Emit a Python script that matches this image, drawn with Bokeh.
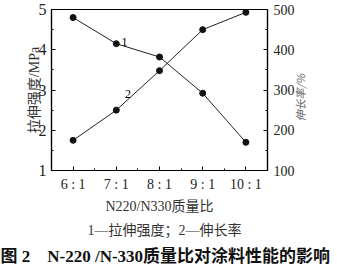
from bokeh.plotting import figure
from bokeh.models import Range1d, LinearAxis, FixedTicker, Label, Title
from bokeh.embed import file_html
from bokeh.resources import INLINE

categories = ["6 : 1", "7 : 1", "8 : 1", "9 : 1", "10 : 1"]
tensile = [4.8, 4.15, 3.82, 2.92, 1.7]
elongation = [175, 250, 348, 450, 493]
left_ticks = [1, 2, 3, 4, 5]
right_ticks = [100, 200, 300, 400, 500]

SERIF = "Liberation Serif, Noto Sans CJK SC"
CJK = "Noto Sans CJK SC"

xs = list(range(len(categories)))

p = figure(width=337, height=268, output_backend="svg", toolbar_location=None,
           x_range=Range1d(-0.5, len(categories) - 0.5), y_range=Range1d(1, 5),
           min_border_left=51, min_border_right=70, min_border_top=9, min_border_bottom=0)
p.extra_y_ranges = {"el": Range1d(100, 500)}
p.grid.visible = False
p.outline_line_color = "black"
p.outline_line_width = 1.2
p.background_fill_color = "white"

def style(ax, size="14px"):
    ax.major_label_text_font = SERIF
    ax.major_label_text_font_size = size
    ax.major_label_text_color = "#222222"
    ax.major_tick_in = 4
    ax.major_tick_out = 0
    ax.minor_tick_in = 2
    ax.minor_tick_out = 0
    ax.axis_line_color = "black"
    ax.axis_line_width = 1.2
    ax.axis_label_text_font = SERIF
    ax.axis_label_text_font_style = "normal"
    ax.axis_label_text_color = "#333333"

p.xaxis.ticker = FixedTicker(ticks=xs, minor_ticks=[i + 0.5 for i in range(-1, len(xs))])
p.xaxis.major_label_overrides = {i: c for i, c in zip(xs, categories)}
style(p.xaxis[0], "14px")
p.xaxis.major_label_standoff = 6
p.xaxis.axis_label = "N220/N330质量比"
p.xaxis.axis_label_text_font_size = "14px"
p.xaxis.axis_label_standoff = 4

p.yaxis.ticker = FixedTicker(ticks=left_ticks, minor_ticks=[t + 0.5 for t in left_ticks[:-1]])
style(p.yaxis[0], "16px")
p.yaxis.major_label_standoff = 5
p.yaxis.axis_label = "拉伸强度/MPa"
p.yaxis.axis_label_text_font_size = "14px"
p.yaxis.axis_label_standoff = -6

ra = LinearAxis(y_range_name="el", ticker=FixedTicker(ticks=right_ticks, minor_ticks=[t + 50 for t in right_ticks[:-1]]))
style(ra, "14px")
ra.major_label_standoff = 6
p.add_layout(ra, "right")

# label-only axis for the right-hand title (reads bottom-to-top)
rl = LinearAxis(y_range_name="el", ticker=FixedTicker(ticks=[]))
rl.axis_line_alpha = 0
rl.major_tick_line_alpha = 0
rl.minor_tick_line_alpha = 0
rl.axis_label = "\u3000\u3000\u3000\u3000\u00a0\u00a0伸长率/%"
rl.axis_label_text_font = CJK
rl.axis_label_text_font_size = "11px"
rl.axis_label_text_color = "#666666"
rl.axis_label_standoff = 3
rl.axis_label_orientation = 1.5708
rl.axis_label_align = "start"
p.add_layout(rl, "right")

p.line(xs, tensile, line_color="#222222", line_width=1)
p.scatter(xs, tensile, size=6, color="#111111")
p.line(xs, elongation, y_range_name="el", line_color="#222222", line_width=1)
p.scatter(xs, elongation, y_range_name="el", size=6, color="#111111")

p.add_layout(Label(x=1.12, y=4.2, text="1", text_font=SERIF, text_font_size="12px",
                   text_baseline="middle", text_color="black"))
p.add_layout(Label(x=1.2, y=290, y_range_name="el", text="2", text_font=SERIF, text_font_size="12px",
                   text_baseline="middle", text_color="black"))

p.add_layout(Title(text="1—拉伸强度；2—伸长率", text_font=SERIF, text_font_size="14px",
                   text_font_style="normal", text_color="#333333", align="left", offset=36,
                   standoff=9), "below")
p.add_layout(Title(text="图\u00a02\u00a0\u00a0\u00a0\u00a0N-220\u00a0/N-330质量比对涂料性能的影响",
                   text_font=SERIF, text_font_size="17px",
                   text_font_style="bold", text_color="#111111", align="left", offset=-51,
                   standoff=5), "below")

open("out.html", "w").write(file_html(p, INLINE))
